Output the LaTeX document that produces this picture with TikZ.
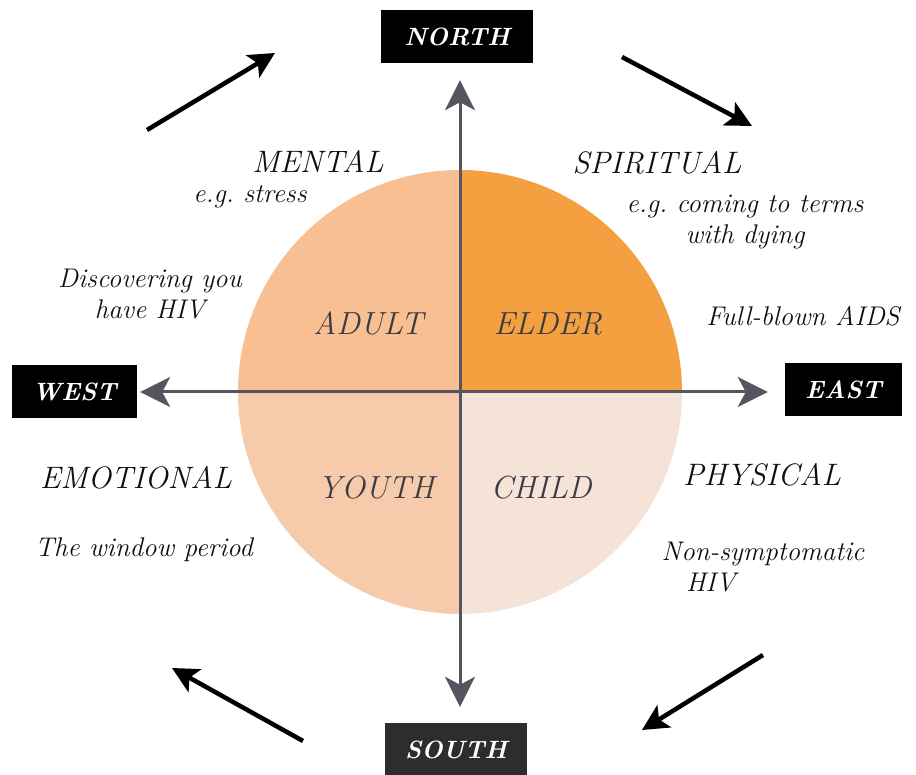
\documentclass[tikz,border=0pt]{standalone}
\usetikzlibrary{arrows.meta}
\definecolor{elder}{RGB}{245,160,64}
\definecolor{adult}{RGB}{247,191,146}
\definecolor{youth}{RGB}{245,203,172}
\definecolor{child}{RGB}{245,227,216}
\definecolor{axisgray}{RGB}{85,85,95}
\definecolor{ink}{RGB}{15,15,15}
\definecolor{southbox}{RGB}{45,45,45}
\begin{document}
\begin{tikzpicture}[x=1pt,y=1pt,
  dirbox/.style={fill=black,text=white,inner sep=0pt,
    font=\fontsize{25}{25}\selectfont\bfseries\itshape},
  axistip/.tip={Stealth[length=30pt,width=30pt,inset=8pt]},
  axis/.style={draw=axisgray,line width=3pt},
  cycle/.style={draw=black,line width=4.5pt,
    -{Stealth[length=26pt,width=26pt,inset=6pt]}},
  head/.style={text=ink,font=\fontsize{31}{31}\selectfont\itshape},
  note/.style={text=ink,align=center,font=\fontsize{27}{31}\selectfont\itshape},
  stage/.style={text=axisgray!70!black,font=\fontsize{32}{32}\selectfont\itshape}]
\useasboundingbox (0,0) rectangle (916,775);

% four quadrants of the medicine wheel
\coordinate (c) at (460,383);
\fill[elder] (c) -- ++(222pt,0) arc[start angle=0,end angle=90,radius=222pt] -- cycle;
\fill[adult] (c) -- ++(0,222pt) arc[start angle=90,end angle=180,radius=222pt] -- cycle;
\fill[youth] (c) -- ++(-222pt,0) arc[start angle=180,end angle=270,radius=222pt] -- cycle;
\fill[child] (c) -- ++(0,-222pt) arc[start angle=270,end angle=360,radius=222pt] -- cycle;

% compass boxes
\node[dirbox,minimum width=152pt,minimum height=53pt] (N) at (457,738.5) {NORTH};
\node[dirbox,minimum width=125pt,minimum height=53pt] (W) at (74.5,383) {WEST};
\node[dirbox,minimum width=117pt,minimum height=53pt] (E) at (843.5,385.5) {EAST};
\node[dirbox,fill=southbox,minimum width=142pt,minimum height=53pt] (S) at (456,25.5) {SOUTH};

% axes
\draw[axis,axistip-axistip,shorten >=17pt,shorten <=16pt] (S.north -| c) -- (N.south -| c);
\draw[axis,-axistip,shorten >=3pt] (c) -- (W.east |- c);
\draw[axis,-axistip,shorten >=17pt] (c) -- (E.west |- c);

% clockwise cycle arrows
\coordinate (tl1) at (147,645); \coordinate (tl2) at (275,722);
\coordinate (tr1) at (622,718); \coordinate (tr2) at (752,649);
\coordinate (br1) at (763,120); \coordinate (br2) at (642,45);
\coordinate (bl1) at (303,34);  \coordinate (bl2) at (172,107);
\draw[cycle] (tl1) -- (tl2);
\draw[cycle] (tr1) -- (tr2);
\draw[cycle] (br1) -- (br2);
\draw[cycle] (bl1) -- (bl2);

% life stages
\node[stage] (adultlbl) at (368,452) {ADULT};
\node[stage] (elderlbl) at (548,451) {ELDER};
\node[stage] (youthlbl) at (376,287) {YOUTH};
\node[stage] (childlbl) at (541,287) {CHILD};

% aspects and examples
\node[head] (mental) at (318,614) {MENTAL};
\node[note] (stress) at (250,578) {e.g.\ stress};
\node[note] (disc) at (150,481) {Discovering you\\have HIV};
\node[head] (spirit) at (657,612) {SPIRITUAL};
\node[note] (dying) at (745,553) {e.g.\ coming to terms\\with dying};
\node[note] (aids) at (803,459) {Full-blown AIDS};
\node[head] (emot) at (136,297) {EMOTIONAL};
\node[note] (window) at (144,225) {The window period};
\node[head] (phys) at (762,300) {PHYSICAL};
\node[note,align=left] (nonsym) at (763,208) {Non-symptomatic\\\hspace*{0.9em}HIV};
\end{tikzpicture}
\end{document}
